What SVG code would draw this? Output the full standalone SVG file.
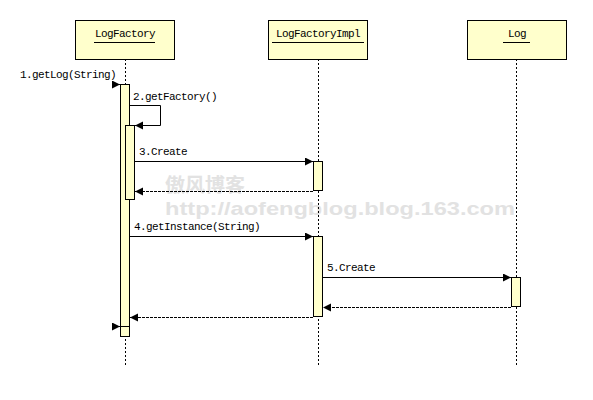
<svg xmlns="http://www.w3.org/2000/svg" width="593" height="400" viewBox="0 0 593 400">
<style>
.box{fill:#FFFFCC;stroke:#000;stroke-width:1}
.bar{fill:#FFFFCC;stroke:#000;stroke-width:1}
.life{stroke:#000;stroke-width:1;stroke-dasharray:2 2;fill:none}
.msg{stroke:#000;stroke-width:1;fill:none}
.ret{stroke:#000;stroke-width:1;fill:none;stroke-dasharray:3 1}
.t{font-family:"Liberation Mono","DejaVu Sans Mono",monospace;font-size:11px;letter-spacing:-0.6px;fill:#000}
.wm{font-family:"Liberation Sans","Noto Sans CJK SC",sans-serif;font-weight:bold;fill:#e2e2e2}
</style>
<defs>
<marker id="ah" markerUnits="userSpaceOnUse" markerWidth="10" markerHeight="10" refX="8" refY="4" orient="auto">
<path d="M0,0 L8,4 L0,8 z" fill="#000"/>
</marker>
</defs>
<rect width="593" height="400" fill="#fff"/>
<g id="watermark">
<text class="wm" x="165" y="192" font-size="19" textLength="80" lengthAdjust="spacingAndGlyphs">傲风博客</text>
<text class="wm" x="165" y="215" font-size="19" textLength="350" lengthAdjust="spacingAndGlyphs">http://aofengblog.blog.163.com</text>
</g>
<g id="lifelines">
<line class="life" x1="125.5" y1="59" x2="125.5" y2="366"/>
<line class="life" x1="318.5" y1="59" x2="318.5" y2="366"/>
<line class="life" x1="516.5" y1="59" x2="516.5" y2="366"/>
</g>
<g id="LogFactory">
<rect class="box" x="75.5" y="20.5" width="99" height="39"/>
<text class="t" x="125" y="37" text-anchor="middle">LogFactory</text>
<line class="msg" x1="94" y1="42.5" x2="155" y2="42.5"/>
</g>
<g id="LogFactoryImpl">
<rect class="box" x="268.5" y="20.5" width="99" height="39"/>
<text class="t" x="318" y="37" text-anchor="middle">LogFactoryImpl</text>
<line class="msg" x1="272" y1="42.5" x2="364" y2="42.5"/>
</g>
<g id="Log">
<rect class="box" x="467.5" y="20.5" width="99" height="39"/>
<text class="t" x="517" y="37" text-anchor="middle">Log</text>
<line class="msg" x1="503" y1="42.5" x2="530" y2="42.5"/>
</g>
<g id="activations">
<rect class="bar" x="120.5" y="84.5" width="9" height="252"/>
<rect class="bar" x="125.5" y="125.5" width="9" height="74"/>
<rect class="bar" x="313.5" y="161.5" width="9" height="29"/>
<rect class="bar" x="313.5" y="236.5" width="9" height="80"/>
<rect class="bar" x="511.5" y="277.5" width="9" height="29"/>
<line class="msg" x1="120" y1="326.5" x2="130" y2="326.5"/>
</g>
<g id="connectors">
<line class="msg" x1="112" y1="84.5" x2="120" y2="84.5" marker-end="url(#ah)"/>
<polyline class="msg" points="130,105.5 160.5,105.5 160.5,125.5 135,125.5" marker-end="url(#ah)"/>
<line class="msg" x1="135" y1="161.5" x2="313" y2="161.5" marker-end="url(#ah)"/>
<line class="ret" x1="313" y1="191.5" x2="135" y2="191.5" marker-end="url(#ah)"/>
<line class="msg" x1="130" y1="236.5" x2="313" y2="236.5" marker-end="url(#ah)"/>
<line class="msg" x1="323" y1="277.5" x2="511" y2="277.5" marker-end="url(#ah)"/>
<line class="ret" x1="511" y1="307.5" x2="323" y2="307.5" marker-end="url(#ah)"/>
<line class="ret" x1="313" y1="317.5" x2="130" y2="317.5" marker-end="url(#ah)"/>
<line class="msg" x1="112" y1="326.5" x2="120" y2="326.5" marker-end="url(#ah)"/>
</g>
<g id="labels">
<text class="t" x="20" y="78">1.getLog(String)</text>
<text class="t" x="133" y="100">2.getFactory()</text>
<text class="t" x="139" y="155">3.Create</text>
<text class="t" x="134" y="230">4.getInstance(String)</text>
<text class="t" x="327" y="271">5.Create</text>
</g>
</svg>
